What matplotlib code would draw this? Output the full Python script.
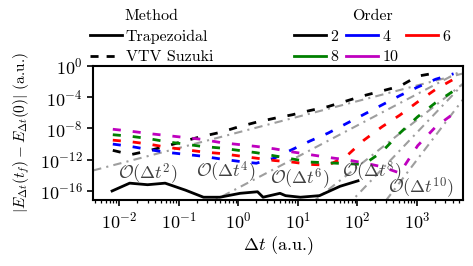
import numpy as np
import matplotlib
matplotlib.use("Agg")
import matplotlib.pyplot as plt
from matplotlib.lines import Line2D
from matplotlib.ticker import NullLocator

plt.rcParams['font.family'] = 'serif'
plt.rcParams['font.serif'] = ['cmr10', 'DejaVu Serif']
plt.rcParams['mathtext.fontset'] = 'cm'
plt.rcParams['axes.formatter.use_mathtext'] = True
plt.rcParams['axes.unicode_minus'] = True

# ---------------- data ----------------
dt_vtv = [0.0078125, 0.015625, 0.03125, 0.0625, 0.125, 0.25, 0.5, 1, 2, 4,
          8, 16, 32, 64, 128, 256, 512, 1024, 2048, 4096]

# log10 of |E(t_f) - E(0)| for VTV Suzuki, per order
log_err_o2 = [-10.8, -11.35, -10.85, -10.25, -9.6, -9.0, -8.5, -7.8, -7.2, -6.7,
              -6.25, -5.7, -5.2, -4.5, -3.8, -3.2, -2.6, -1.3, -0.9]
log_err_o4 = [-10.0, -10.3, -10.7, -11.05, -11.3, -11.55, -11.9, -12.2, -12.45, -11.8,
              -10.7, -9.6, -8.6, -7.4, -6.2, -5.0, -3.8, -2.7, -1.7, -1.0]
log_err_o6 = [-9.5, -9.7, -10.0, -10.4, -10.7, -11.0, -11.2, -11.5, -11.8, -12.1,
              -12.3, -12.6, -12.7, -11.6, -9.5, -7.8, -6.3, -4.6, -3.0, -1.7]
log_err_o8 = [-8.8, -9.0, -9.3, -9.7, -10.0, -10.3, -10.5, -10.8, -11.1, -11.5,
              -11.9, -12.3, -12.4, -12.5, -12.6, -11.0, -8.6, -6.5, -4.7, -3.2]
log_err_o10 = [-8.1, -8.35, -8.65, -8.9, -9.15, -9.4, -9.8, -10.05, -10.3, -10.6,
               -11.0, -11.35, -11.7, -12.0, -12.4, -12.9, -13.7, -10.2, -7.8, -6.1]

# Trapezoidal
dt_trap = [0.0076, 0.015, 0.030, 0.059, 0.13, 0.26, 0.49, 1.07, 2.1, 2.6,
           5.0, 6.2, 11, 23, 51, 102]
log_err_trap = [-16.0, -15.0, -15.2, -15.0, -15.9, -16.8, -16.8, -16.3, -16.1, -16.8,
                -16.3, -16.6, -16.8, -16.6, -15.4, -14.7]

orders = [2, 4, 6, 8, 10]
order_colors = ['black', 'blue', 'red', 'green', 'm']

# reference lines O(dt^p): exponents and log10 prefactors
ref_powers = [2, 4, 6, 8, 10]
ref_log_prefactor = [-8.5, -15.6, -24.9, -32.5, -42.0]
ref_labels = [r'$\mathcal{O}(\Delta t^{2})$', r'$\mathcal{O}(\Delta t^{4})$',
              r'$\mathcal{O}(\Delta t^{6})$', r'$\mathcal{O}(\Delta t^{8})$',
              r'$\mathcal{O}(\Delta t^{10})$']
ref_label_dt = [0.0307, 0.624, 10.9, 176, 1167]
ref_label_logy = [-13.83, -13.57, -14.47, -13.57, -15.62]

# ---------------- figure ----------------
fig = plt.figure(figsize=(4.73, 2.66), dpi=100)
ax = fig.add_axes([0.197, 0.248, 0.782, 0.504])

xlim = (0.00366, 5916)
ylim = (10 ** -17.16, 1.0)

# reference lines
xr = np.array(xlim)
for p, lc in zip(ref_powers, ref_log_prefactor):
    ax.plot(xr, 10 ** lc * xr ** p, color='0.62', lw=1.5,
            linestyle=(0, (4, 2.5, 1, 2.5)), zorder=1)

# VTV Suzuki series
vtv = [log_err_o2, log_err_o4, log_err_o6, log_err_o8, log_err_o10]
for vals, col in zip(vtv, order_colors):
    ax.plot(dt_vtv[:len(vals)], 10 ** np.array(vals), color=col, lw=2.0,
            linestyle=(0, (2.9, 4.3)), zorder=3)

# Trapezoidal
ax.plot(dt_trap, 10 ** np.array(log_err_trap), color='black', lw=2.0, zorder=4)

for lab, xd, yl in zip(ref_labels, ref_label_dt, ref_label_logy):
    ax.text(xd, 10 ** yl, lab, fontsize=13, ha='center', va='center',
            color='0.25', zorder=5)

ax.set_xscale('log')
ax.set_yscale('log')
ax.set_xlim(*xlim)
ax.set_ylim(*ylim)
ax.set_yticks([10.0 ** e for e in range(-16, 1, 4)])
ax.yaxis.set_minor_locator(NullLocator())
ax.tick_params(axis='both', labelsize=13, width=1.2, length=4)
ax.tick_params(axis='x', which='minor', width=0.9, length=2.5)
for s in ax.spines.values():
    s.set_linewidth(1.5)

ax.set_xlabel(r'$\Delta t$ (a.u.)', fontsize=13, labelpad=2)
ax.set_ylabel(r'$|E_{\Delta t}(t_f) - E_{\Delta t}(0)|$ (a.u.)', fontsize=11)
ax.yaxis.set_label_coords(-0.165, 0.5)

# legends
method_handles = [Line2D([], [], color='black', lw=2.0),
                  Line2D([], [], color='black', lw=2.0, linestyle=(0, (2.9, 2.9)))]
leg1 = fig.legend(method_handles, ['Trapezoidal', 'VTV Suzuki'], title='Method',
                  loc='upper center', bbox_to_anchor=(0.32, 0.995), frameon=False,
                  fontsize=11.5, title_fontsize=11.5, handlelength=2.0,
                  handletextpad=0.25, labelspacing=0.4, borderaxespad=0.1)

ord_h = {o: Line2D([], [], color=c, lw=2.0) for o, c in zip(orders, order_colors)}
seq = [2, 8, 4, 10, 6]
leg2 = fig.legend([ord_h[o] for o in seq], [str(o) for o in seq], title='Order',
                  loc='upper center', bbox_to_anchor=(0.787, 0.995), frameon=False,
                  ncol=3, fontsize=11.5, title_fontsize=11.5, handlelength=2.0,
                  handletextpad=0.25, labelspacing=0.4, columnspacing=0.5,
                  borderaxespad=0.1)

fig.savefig('out.png', dpi=100)
